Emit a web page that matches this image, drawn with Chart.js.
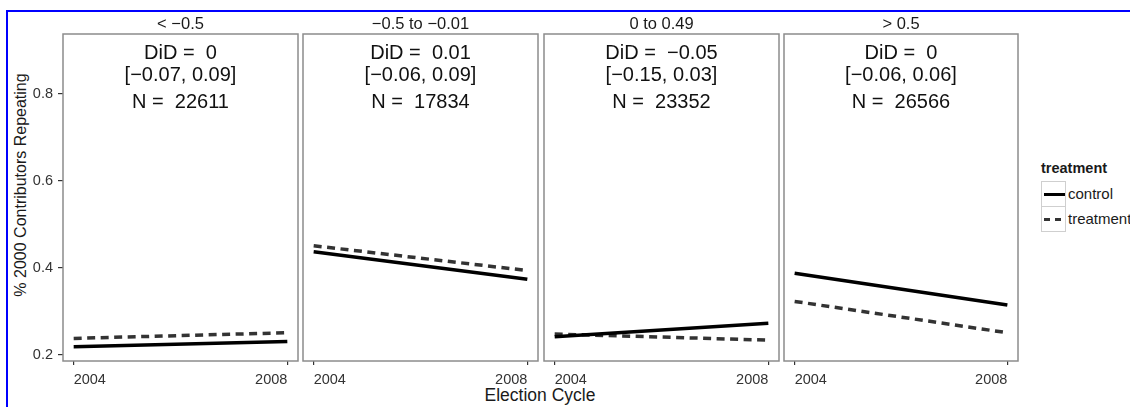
<!DOCTYPE html>
<html>
<head>
<meta charset="utf-8">
<script src="https://cdn.jsdelivr.net/npm/chart.js@4.4.1/dist/chart.umd.min.js"></script>
<style>
  body { margin: 0; background: #fff; font-family: "Liberation Sans", Arial, sans-serif; }
  #wrap { position: relative; width: 1130px; height: 407px; overflow: hidden; background: #fff; }
  .frame { position: absolute; left: 6px; top: 10px; width: 1300px; height: 600px;
           border-top: 2px solid #0000ff; border-left: 2px solid #0000ff; }
  .panel { position: absolute; }
  .ytitle { position: absolute; left: -109px; top: 175px; width: 260px; height: 20px; line-height: 20px;
            text-align: center; font-size: 16px; color: #1a1a1a; transform: rotate(-90deg); }
  .xtitle { position: absolute; left: 440px; top: 385px; width: 200px; line-height: 20px;
            text-align: center; font-size: 17.5px; color: #1a1a1a; }
  .legend { position: absolute; left: 1041px; top: 160px; font-size: 15px; color: #1a1a1a; white-space: nowrap; }
  .legend .ttl { font-weight: bold; font-size: 14.5px; height: 21px; }
  .legend .row { position: relative; height: 25px; }
  .legend .key { position: absolute; left: 0; top: 0; width: 23px; height: 24px; border: 1px solid #cfcfcf; }
  .legend .lab { position: absolute; left: 27px; top: 4px; }
  .legend .seg { position: absolute; top: 11px; height: 3px; }
</style>
</head>
<body>
<div id="wrap">
  <div class="frame"></div>
  <div class="ytitle">% 2000 Contributors Repeating</div>
  <div class="xtitle">Election Cycle</div>
  <div class="legend" id="legend"></div>
</div>
<script>
// data
const years = [2004, 2008];
const groups = ["< \u22120.5", "\u22120.5 to \u22120.01", "0 to 0.49", "> 0.5"];
const controlValues = [
  [0.219, 0.231],
  [0.437, 0.374],
  [0.242, 0.273],
  [0.388, 0.315],
];
const treatmentValues = [
  [0.238, 0.251],
  [0.451, 0.394],
  [0.248, 0.234],
  [0.323, 0.251],
];
const didLabels = ["0", "0.01", "\u22120.05", "0"];
const ciLabels = ["[\u22120.07, 0.09]", "[\u22120.06, 0.09]", "[\u22120.15, 0.03]", "[\u22120.06, 0.06]"];
const nValues = [22611, 17834, 23352, 26566];
const yTicks = [0.2, 0.4, 0.6, 0.8];
const seriesNames = ["control", "treatment"];

// panel layout
const panelLeft = [63, 303, 544, 784];
const panelRight = [298, 538, 779, 1018];
const canvasTop = 12;
const panelTop = 34;
const panelBottom = 361;
const canvasBottom = 395;

const wrap = document.getElementById("wrap");

const panelDecor = {
  id: "panelDecor",
  afterDraw(chart, args, opts) {
    const { ctx, chartArea } = chart;
    const cx = (chartArea.left + chartArea.right) / 2;
    ctx.save();
    ctx.strokeStyle = "#8c8c8c";
    ctx.lineWidth = 1.5;
    ctx.strokeRect(chartArea.left, chartArea.top, chartArea.right - chartArea.left, chartArea.bottom - chartArea.top);

    ctx.textAlign = "center";
    ctx.textBaseline = "middle";
    ctx.fillStyle = "#1a1a1a";
    ctx.font = '16.5px "Liberation Sans", Arial, sans-serif';
    ctx.fillText(opts.strip, cx, chartArea.top - 10);

    ctx.fillStyle = "#111";
    ctx.font = '20px "Liberation Sans", Arial, sans-serif';
    ctx.fillText("DiD =  " + opts.did, cx, chartArea.top + 19);
    ctx.fillText(opts.ci, cx, chartArea.top + 41);
    ctx.fillText("N =  " + opts.n, cx, chartArea.top + 68);
    ctx.restore();
  }
};

groups.forEach((group, i) => {
  const first = i === 0;
  const left = first ? 8 : panelLeft[i] - 3;
  const width = panelRight[i] + 3 - left;
  const height = canvasBottom - canvasTop;

  const box = document.createElement("div");
  box.className = "panel";
  box.style.left = left + "px";
  box.style.top = canvasTop + "px";
  const canvas = document.createElement("canvas");
  canvas.width = width;
  canvas.height = height;
  box.appendChild(canvas);
  wrap.appendChild(box);

  new Chart(canvas.getContext("2d"), {
    type: "line",
    data: {
      datasets: [
        {
          label: seriesNames[0],
          data: years.map((yr, j) => ({ x: yr, y: controlValues[i][j] })),
          borderColor: "#000",
          borderWidth: 3.5,
          pointRadius: 0,
          borderCapStyle: "butt",
        },
        {
          label: seriesNames[1],
          data: years.map((yr, j) => ({ x: yr, y: treatmentValues[i][j] })),
          borderColor: "#333",
          borderWidth: 3.5,
          borderDash: [8, 5.5],
          pointRadius: 0,
          borderCapStyle: "butt",
        },
      ],
    },
    options: {
      responsive: false,
      animation: false,
      events: [],
      layout: { padding: { top: panelTop - canvasTop, left: first ? 0 : 3, right: 3, bottom: 0 } },
      scales: {
        x: {
          type: "linear",
          min: 2003.8,
          max: 2008.2,
          afterBuildTicks: (scale) => { scale.ticks = years.map((v) => ({ value: v })); },
          afterFit: (scale) => { scale.height = canvasBottom - panelBottom; },
          grid: { drawOnChartArea: false, tickLength: 4, color: "#333", lineWidth: 1.2 },
          border: { display: false },
          ticks: {
            align: "inner",
            padding: 6,
            maxRotation: 0,
            color: "#333",
            font: { family: '"Liberation Sans", Arial, sans-serif', size: 14.5 },
            callback: (v) => String(v),
          },
        },
        y: {
          display: first,
          min: 0.186,
          max: 0.938,
          afterBuildTicks: (scale) => { scale.ticks = yTicks.map((v) => ({ value: v })); },
          afterFit: (scale) => { scale.width = first ? panelLeft[0] - 8 : 0; },
          grid: { drawOnChartArea: false, tickLength: 5, color: "#333", lineWidth: 1.2 },
          border: { display: false },
          ticks: {
            padding: 5,
            color: "#333",
            font: { family: '"Liberation Sans", Arial, sans-serif', size: 14.5 },
            callback: (v) => v.toFixed(1),
          },
        },
      },
      plugins: {
        legend: { display: false },
        tooltip: { enabled: false },
        panelDecor: { strip: group, did: didLabels[i], ci: ciLabels[i], n: nValues[i] },
      },
    },
    plugins: [panelDecor],
  });
});

// legend (ggplot style guide)
const legend = document.getElementById("legend");
legend.innerHTML = '<div class="ttl">treatment</div>';
seriesNames.forEach((name, k) => {
  const row = document.createElement("div");
  row.className = "row";
  let segs;
  if (k === 0) {
    segs = '<div class="seg" style="left:2px;width:21px;background:#000"></div>';
  } else {
    segs = '<div class="seg" style="left:2px;width:6px;background:#333"></div>' +
           '<div class="seg" style="left:13px;width:6px;background:#333"></div>';
  }
  row.innerHTML = '<div class="key">' + segs + '</div><div class="lab">' + name + '</div>';
  legend.appendChild(row);
});
</script>
</body>
</html>
